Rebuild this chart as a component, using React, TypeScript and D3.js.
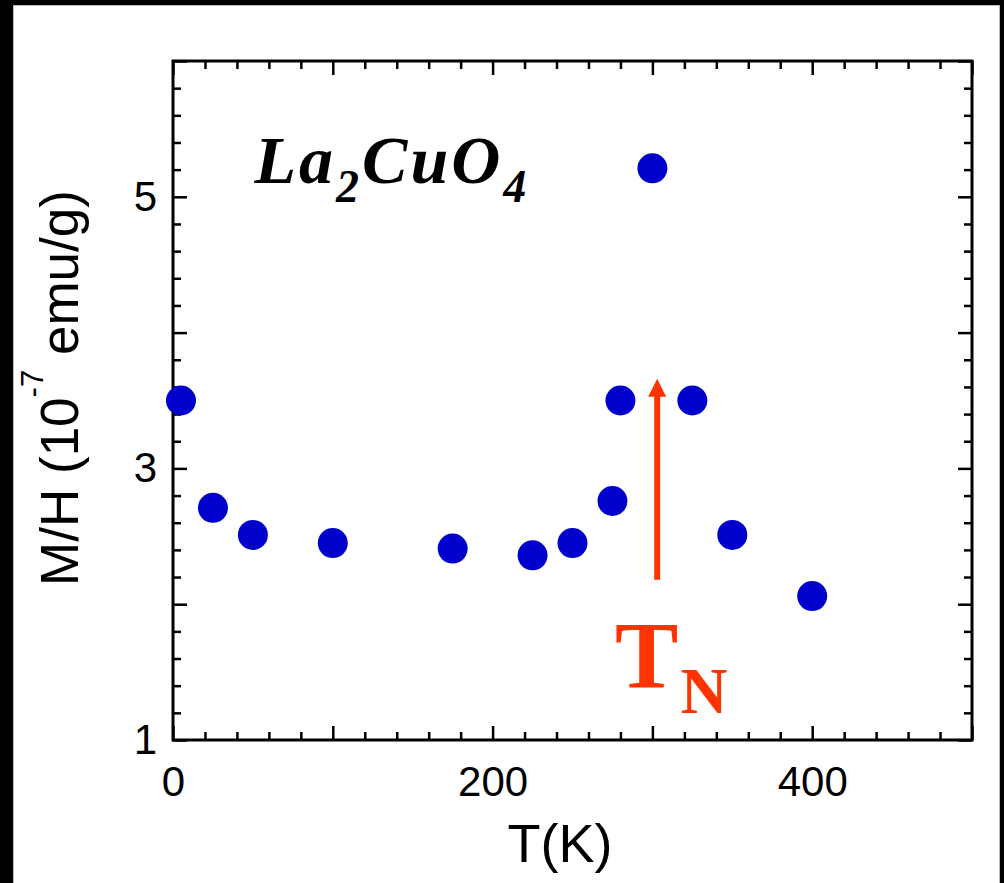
import React, { useRef, useEffect } from 'react';
import * as d3 from 'd3';

const width = 1004;
const height = 883;
const margin = { top: 61, right: 32, bottom: 143, left: 173 };

// M/H vs T for La2CuO4
const temps = [5, 25, 50, 100, 175, 225, 250, 275, 280, 300, 325, 350, 400];
const mh = [3.5, 2.71, 2.51, 2.45, 2.41, 2.36, 2.45, 2.76, 3.5, 5.21, 3.5, 2.51, 2.06];

const xLabels = [0, 200, 400];
const yLabels = [1, 3, 5];
const xMajor = [0, 100, 200, 300, 400, 500];
const yMajor = [1, 2, 3, 4, 5, 6];

// T_N arrow annotation (data units)
const tN = 303;
const arrowFrom = 2.18;
const arrowTo = 3.66;

export default function App() {
  const ref = useRef<SVGSVGElement>(null);

  useEffect(() => {
    if (!ref.current) return;
    const svg = d3.select(ref.current);
    svg.selectAll('*').remove();

    const x = d3.scaleLinear().domain([0, 500]).range([margin.left, width - margin.right]);
    const y = d3.scaleLinear().domain([1, 6]).range([height - margin.bottom, margin.top]);

    // outer frame
    svg.append('rect').attr('width', width).attr('height', height).attr('fill', '#000');
    svg.append('rect')
      .attr('x', 13.5).attr('y', 5.5).attr('width', 986).attr('height', 880)
      .attr('fill', '#fff').attr('stroke', '#bbb').attr('stroke-width', 1);

    const xMinor = d3.range(0, 501, 20).filter(d => d % 100 !== 0);
    const yMinor = d3.range(1, 6.01, 0.2).map(d => +d.toFixed(1)).filter(d => Math.abs(d - Math.round(d)) > 0.01);

    const style = (g: any) => {
      g.select('.domain').remove();
      g.selectAll('.tick line').attr('stroke', '#000').attr('stroke-width', 2.5);
      g.selectAll('.tick text')
        .attr('font-family', '"Liberation Sans", Arial, sans-serif')
        .attr('font-size', 42)
        .attr('fill', '#000');
    };
    const bottom = height - margin.bottom;
    const right = width - margin.right;

    svg.append('g').attr('transform', `translate(0,${bottom})`)
      .call(d3.axisBottom(x).tickValues(xMajor).tickSize(-14).tickPadding(26)
        .tickFormat((d: any) => (xLabels.includes(d) ? String(d) : '')))
      .call(style);
    svg.append('g').attr('transform', `translate(0,${bottom})`)
      .call(d3.axisBottom(x).tickValues(xMinor).tickSize(-8).tickFormat(() => ''))
      .call(style);
    svg.append('g').attr('transform', `translate(0,${margin.top})`)
      .call(d3.axisTop(x).tickValues(xMajor).tickSize(-14).tickFormat(() => ''))
      .call(style);
    svg.append('g').attr('transform', `translate(0,${margin.top})`)
      .call(d3.axisTop(x).tickValues(xMinor).tickSize(-8).tickFormat(() => ''))
      .call(style);

    svg.append('g').attr('transform', `translate(${margin.left},0)`)
      .call(d3.axisLeft(y).tickValues(yMajor).tickSize(-14).tickPadding(16)
        .tickFormat((d: any) => (yLabels.includes(d) ? String(d) : '')))
      .call(style);
    svg.append('g').attr('transform', `translate(${margin.left},0)`)
      .call(d3.axisLeft(y).tickValues(yMinor).tickSize(-8).tickFormat(() => ''))
      .call(style);
    svg.append('g').attr('transform', `translate(${right},0)`)
      .call(d3.axisRight(y).tickValues(yMajor).tickSize(-14).tickFormat(() => ''))
      .call(style);
    svg.append('g').attr('transform', `translate(${right},0)`)
      .call(d3.axisRight(y).tickValues(yMinor).tickSize(-8).tickFormat(() => ''))
      .call(style);

    svg.append('rect')
      .attr('x', margin.left).attr('y', margin.top)
      .attr('width', right - margin.left).attr('height', bottom - margin.top)
      .attr('fill', 'none').attr('stroke', '#000').attr('stroke-width', 3);

    // axis titles
    svg.append('text')
      .attr('x', 560).attr('y', 862)
      .attr('text-anchor', 'middle')
      .attr('font-family', '"Liberation Sans", Arial, sans-serif')
      .attr('font-size', 54)
      .text('T(K)');

    const yt = svg.append('text')
      .attr('transform', 'translate(78,388) rotate(-90)')
      .attr('text-anchor', 'middle')
      .attr('font-family', '"Liberation Sans", Arial, sans-serif')
      .attr('font-size', 53);
    yt.append('tspan').text('M/H (10');
    yt.append('tspan').attr('font-size', 31).attr('dy', -35).text('-7');
    yt.append('tspan').attr('dy', 35).text(' emu/g)');

    // data
    svg.append('g')
      .selectAll('circle')
      .data(temps.map((t, i) => ({ t, v: mh[i] })))
      .join('circle')
      .attr('cx', d => x(d.t))
      .attr('cy', d => y(d.v))
      .attr('r', 15)
      .attr('fill', '#0000cc');

    // compound label
    const lab = svg.append('text')
      .attr('x', x(51)).attr('y', y(5.1))
      .attr('font-family', '"Liberation Serif", "Times New Roman", serif')
      .attr('font-weight', 'bold').attr('font-style', 'italic')
      .attr('font-size', 68)
      .attr('letter-spacing', 3);
    lab.append('tspan').text('La');
    lab.append('tspan').attr('font-size', 46).attr('dy', 19).text('2');
    lab.append('tspan').attr('dy', -19).text('CuO');
    lab.append('tspan').attr('font-size', 46).attr('dy', 19).text('4');

    // T_N arrow
    const red = '#ff3300';
    svg.append('line')
      .attr('x1', x(tN)).attr('x2', x(tN))
      .attr('y1', y(arrowFrom)).attr('y2', y(arrowTo) + 16)
      .attr('stroke', red).attr('stroke-width', 6);
    svg.append('path')
      .attr('d', `M${x(tN)},${y(arrowTo)} L${x(tN) - 9},${y(arrowTo) + 18} L${x(tN) + 9},${y(arrowTo) + 18} Z`)
      .attr('fill', red);

    const tn = svg.append('text')
      .attr('x', x(276.6)).attr('y', y(1.383))
      .attr('font-family', '"Liberation Serif", "Times New Roman", serif')
      .attr('font-weight', 'bold')
      .attr('font-size', 95)
      .attr('fill', red);
    tn.append('tspan').text('T');
    tn.append('tspan').attr('font-size', 65).attr('dy', 25).attr('dx', 2).text('N');
  }, []);

  return <svg ref={ref} width={width} height={height} style={{ position: 'absolute', left: 0, top: 0 }} />;
}
